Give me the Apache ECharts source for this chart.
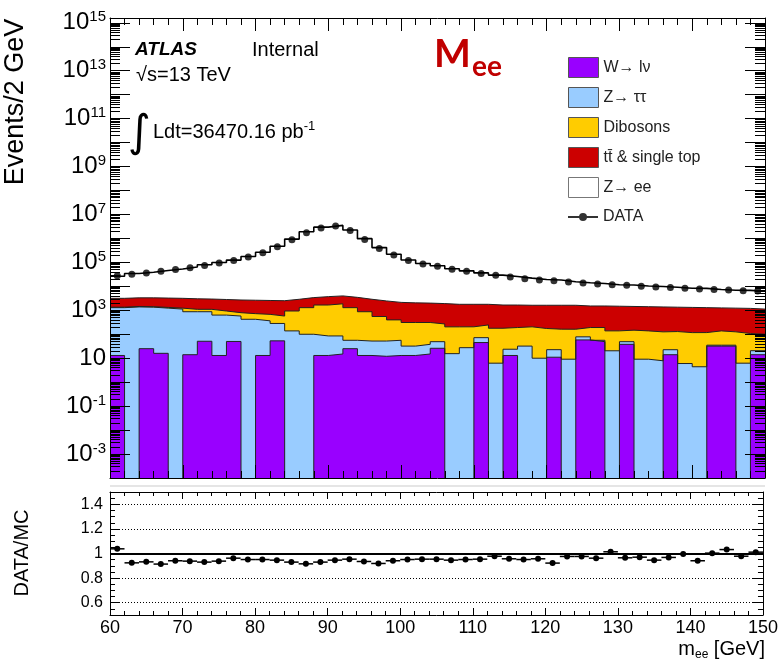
<!DOCTYPE html>
<html>
<head>
<meta charset="utf-8">
<script src="https://cdn.jsdelivr.net/npm/echarts@6/dist/echarts.min.js"></script>
<style>
  html, body { margin: 0; padding: 0; background: #fff; }
  #chart { width: 781px; height: 664px; }
</style>
</head>
<body>
<div id="chart"></div>
<script>
// Binning of the m_ee histogram: 45 bins of 2 GeV, 60-150 GeV
const binLow = 60;
const binWidth = 2;

// Observed events per bin
const dataCounts = [27500, 31600, 36300, 42200, 50100, 60300, 74100, 93300, 120000, 166000,
  251000, 447000, 871000, 1740000, 2750000, 3310000, 2140000, 912000, 380000, 204000,
  120000, 85100, 69200, 51300, 42200, 34700, 28800, 24500, 20900, 18600,
  17000, 15100, 13800, 12600, 11700, 11000, 10000, 9330, 8910, 8320,
  7760, 7410, 7080, 6610, 6310];

// Simulated components per bin (stacked in this order, bottom to top)
const wLepNu = [13, 0, 25, 16, 0, 14, 51, 13, 50, 0,
  13, 53, 0, 0, 13, 15, 25, 13, 12, 13,
  13, 15, 26, 0, 0, 45, 0, 13, 0, 0,
  11, 0, 58, 49, 0, 38, 0, 0, 14, 0,
  0, 32, 32, 0, 14];
const zTauTau = [1275, 1380, 1324, 1214, 1122, 857, 820, 618, 525, 422,
  350, 229, 138, 100, 72, 70, 31, 39, 40, 43,
  19, 23, 23, 15.5, 27.5, 27, 6.2, 10.7, 32, 10,
  11.7, 9.1, 20, 7, 20.4, 11, 9.1, 7.8, 8.6, 6.0,
  4.4, 3, 3, 6.2, 6.6];
const dibosons = [61, 65, 64, 88, 108, 225, 225, 302, 219, 302,
  313, 293, 795, 1188, 1575, 1777, 1232, 819, 498, 342,
  277, 271, 220, 188, 177, 173, 172, 167, 172, 164,
  140, 153, 113, 135, 118, 99, 129, 118, 107, 111,
  113, 103, 91, 101, 80];
const ttbarSingleTop = [1813, 1866, 1898, 1918, 1932, 1924, 1855, 1885, 1898, 1906,
  1894, 1937, 1951, 2100, 2055, 2119, 2179, 2013, 1905, 1740,
  1733, 1686, 1636, 1574, 1574, 1533, 1482, 1469, 1418, 1448,
  1460, 1460, 1323, 1323, 1341, 1297, 1275, 1254, 1220, 1201,
  1171, 1121, 1104, 1095, 1022];
const zee = [23300, 30900, 35600, 42900, 50100, 61300, 76700, 96700, 122000, 172000,
  261000, 470000, 934000, 1896000, 2953000, 3495000, 2240000, 973000, 411000, 215000,
  124000, 87200, 70600, 52500, 42600, 34600, 27800, 23900, 20400, 17800,
  16800, 13900, 12600, 11600, 10100, 9950, 8900, 8480, 7850, 7040,
  6960, 6130, 5630, 5560, 5120];

// DATA / MC per bin
const ratioDataMC = [1.038, 0.924, 0.932, 0.914, 0.941, 0.938, 0.930, 0.938, 0.962, 0.951,
  0.951, 0.946, 0.930, 0.916, 0.930, 0.946, 0.954, 0.935, 0.919, 0.941,
  0.951, 0.954, 0.954, 0.946, 0.951, 0.954, 0.978, 0.957, 0.951, 0.957,
  0.922, 0.976, 0.976, 0.962, 1.014, 0.965, 0.970, 0.946, 0.968, 0.995,
  0.941, 1.003, 1.032, 0.978, 1.011];

// Tick labels
const xTickLabels = [60, 70, 80, 90, 100, 110, 120, 130, 140, 150];
const ratioTickLabels = [0.6, 0.8, 1, 1.2, 1.4];
const mainLabelExponents = [-3, -1, 1, 3, 5, 7, 9, 11, 13, 15];

// Legend / series names
const NAME_W = 'W\u2192 l\u03bd';
const NAME_ZTT = 'Z\u2192 \u03c4\u03c4';
const NAME_DIB = 'Dibosons';
const NAME_TOP = 't\u0074\u0304 & single top';
const NAME_ZEE = 'Z\u2192 ee';
const NAME_DATA = 'DATA';

const FONT = '"Liberation Sans", Arial, Helvetica, sans-serif';
const COLORS = { w: '#9900ff', ztt: '#99ccff', dib: '#ffcc00', top: '#cc0000', zee: '#ffffff' };

// The event axis is logarithmic: values are placed by their decade exponent
const EXP_MIN = -4, EXP_MAX = 15.2;
const EMPTY_EXP = -10; // empty bins fall below the frame and are clipped
const toExp = v => (v > 0 ? Math.log10(v) : EMPTY_EXP);

const nBins = dataCounts.length;
const edge = i => binLow + i * binWidth;
const center = i => binLow + (i + 0.5) * binWidth;

// cumulative stack tops
const components = [wLepNu, zTauTau, dibosons, ttbarSingleTop, zee];
const stackTops = [];
let running = new Array(nBins).fill(0);
components.forEach(arr => {
  running = running.map((v, i) => v + arr[i]);
  stackTops.push(running.map((v, i) => (arr === wLepNu && arr[i] === 0 ? 0 : v)));
});

function stepPoints(values) {
  const pts = values.map((v, i) => [edge(i), toExp(v)]);
  pts.push([edge(nBins), toExp(values[nBins - 1])]);
  return pts;
}

function layer(name, values, fill, stroke, width) {
  return {
    name, type: 'line', xAxisIndex: 0, yAxisIndex: 0,
    data: stepPoints(values), step: 'end',
    symbol: 'none', showSymbol: false, clip: true, silent: true,
    lineStyle: { color: stroke, width: width },
    itemStyle: { color: fill },
    areaStyle: { color: fill, opacity: 1, origin: 'start' },
    animation: false
  };
}

// log-spaced minor ticks (2..9 x 10^n)
const logMinorTicks = [];
for (let n = Math.floor(EXP_MIN); n < Math.ceil(EXP_MAX); n++) {
  for (let m = 2; m <= 9; m++) {
    const t = n + Math.log10(m);
    if (t > EXP_MIN && t < EXP_MAX) logMinorTicks.push(t);
  }
}

function expLabel(v) {
  const e = Math.round(v);
  if (Math.abs(v - e) > 1e-6 || mainLabelExponents.indexOf(e) < 0) return '';
  if (e === 1) return '{b|10}';
  return '{b|10}{s|' + e + '}';
}

const frame = { show: true, onZero: false, lineStyle: { color: '#000', width: 1 } };
const tickStyle = { color: '#000', width: 1 };

function xAxisFor(grid, position, withLabels, majorLen, minorLen) {
  return {
    gridIndex: grid, type: 'value', min: binLow, max: binLow + nBins * binWidth, interval: 10,
    position, axisLine: frame,
    axisTick: { inside: true, length: majorLen, lineStyle: tickStyle },
    minorTick: { show: true, splitNumber: 5, length: minorLen, lineStyle: tickStyle },
    axisLabel: withLabels ? {
      show: true, customValues: xTickLabels, fontSize: 18, color: '#000', fontFamily: FONT, margin: 4
    } : { show: false },
    splitLine: { show: false }, minorSplitLine: { show: false }, z: 10
  };
}

function mainY(position, major) {
  return major ? {
    gridIndex: 0, type: 'value', min: EXP_MIN, max: EXP_MAX, interval: 1, position,
    axisLine: frame,
    axisTick: { inside: true, length: 20, lineStyle: tickStyle },
    axisLabel: position === 'left' ? {
      formatter: expLabel, margin: 4,
      rich: {
        b: { fontSize: 24, fontFamily: FONT, color: '#000', lineHeight: 26 },
        s: { fontSize: 15, fontFamily: FONT, color: '#000', verticalAlign: 'top' }
      }
    } : { show: false },
    splitLine: { show: false }, z: 10
  } : {
    gridIndex: 0, type: 'value', min: EXP_MIN, max: EXP_MAX, interval: 1, position,
    axisLine: { show: false, onZero: false },
    axisTick: { inside: true, length: 10, customValues: logMinorTicks, lineStyle: tickStyle },
    axisLabel: { show: false }, splitLine: { show: false }, z: 10
  };
}

function ratioY(position, major) {
  return major ? {
    gridIndex: 1, type: 'value', min: 0.5, max: 1.5, interval: 0.1, position,
    axisLine: frame,
    axisTick: { inside: true, length: 10, customValues: ratioTickLabels, lineStyle: tickStyle },
    axisLabel: position === 'left' ? {
      customValues: ratioTickLabels,
      formatter: v => (Math.abs(v - 1) < 1e-9 ? '1' : v.toFixed(1)),
      fontSize: 16, color: '#000', fontFamily: FONT, margin: 7
    } : { show: false },
    splitLine: { show: false }, z: 10
  } : {
    gridIndex: 1, type: 'value', min: 0.5, max: 1.5, interval: 0.05, position,
    axisLine: { show: false, onZero: false },
    axisTick: { inside: true, length: 5, lineStyle: tickStyle },
    axisLabel: { show: false }, splitLine: { show: false }, z: 10
  };
}

const chart = echarts.init(document.getElementById('chart'), null, { renderer: 'canvas' });

const option = {
  backgroundColor: '#ffffff',
  animation: false,
  grid: [
    { left: 110, top: 18, width: 655, height: 460, show: false },
    { left: 110, top: 492, width: 655, height: 123, show: false }
  ],
  xAxis: [
    xAxisFor(0, 'bottom', false, 13, 7),
    xAxisFor(0, 'top', false, 13, 7),
    xAxisFor(1, 'bottom', true, 7, 4),
    xAxisFor(1, 'top', false, 7, 4)
  ],
  yAxis: [
    mainY('left', true), mainY('left', false),
    mainY('right', true), mainY('right', false),
    ratioY('left', true), ratioY('left', false),
    ratioY('right', true), ratioY('right', false)
  ],
  legend: [
    {
      orient: 'vertical', left: 563, top: 52, itemWidth: 30, itemHeight: 20, itemGap: 9,
      selectedMode: false,
      textStyle: { fontSize: 16, color: '#222', fontFamily: FONT },
      data: [
        { name: NAME_W, icon: 'rect', itemStyle: { color: COLORS.w, borderColor: '#555', borderWidth: 1 } },
        { name: NAME_ZTT, icon: 'rect', itemStyle: { color: COLORS.ztt, borderColor: '#555', borderWidth: 1 } },
        { name: NAME_DIB, icon: 'rect', itemStyle: { color: COLORS.dib, borderColor: '#555', borderWidth: 1 } },
        { name: NAME_TOP, icon: 'rect', itemStyle: { color: COLORS.top, borderColor: '#555', borderWidth: 1 } },
        { name: NAME_ZEE, icon: 'rect', itemStyle: { color: COLORS.zee, borderColor: '#777', borderWidth: 1 } }
      ]
    },
    {
      orient: 'vertical', left: 563, top: 204, itemWidth: 30, itemHeight: 8,
      selectedMode: false,
      textStyle: { fontSize: 16, color: '#222', fontFamily: FONT },
      data: [{
        name: NAME_DATA,
        icon: 'path://M0,3 L30,3 L30,5 L0,5 Z M11,4 A4,4 0 1,1 19,4 A4,4 0 1,1 11,4 Z',
        itemStyle: { color: '#000', borderWidth: 0 }
      }]
    }
  ],
  series: [
    layer(NAME_ZEE, stackTops[4], COLORS.zee, '#000', 1.6),
    layer(NAME_TOP, stackTops[3], COLORS.top, '#222', 1),
    layer(NAME_DIB, stackTops[2], COLORS.dib, '#222', 1),
    layer(NAME_ZTT, stackTops[1], COLORS.ztt, '#222', 1),
    layer(NAME_W, stackTops[0], COLORS.w, '#222', 1),
    {
      name: NAME_DATA, type: 'scatter', xAxisIndex: 0, yAxisIndex: 0,
      data: dataCounts.map((v, i) => [center(i), toExp(v)]),
      symbol: 'circle', symbolSize: 7, itemStyle: { color: '#000' }, z: 5, silent: true
    },
    {
      name: 'ratio', type: 'custom', xAxisIndex: 2, yAxisIndex: 4,
      data: ratioDataMC.map((v, i) => [center(i), v]),
      encode: { x: 0, y: 1 },
      silent: true, z: 5,
      renderItem: function (params, api) {
        const x = api.value(0), y = api.value(1);
        const a = api.coord([x - binWidth / 2, y]);
        const b = api.coord([x + binWidth / 2, y]);
        const c = api.coord([x, y]);
        return {
          type: 'group',
          children: [
            { type: 'line', shape: { x1: a[0], y1: a[1], x2: b[0], y2: b[1] }, style: { stroke: '#000', lineWidth: 1.5 } },
            { type: 'circle', shape: { cx: c[0], cy: c[1], r: 3 }, style: { fill: '#000' } }
          ]
        };
      },
      markLine: {
        silent: true, symbol: ['none', 'none'], animation: false,
        label: { show: false },
        lineStyle: { color: '#000', width: 1, type: [1, 2] },
        data: [
          { yAxis: 0.6 }, { yAxis: 0.8 }, { yAxis: 1.2 }, { yAxis: 1.4 },
          { yAxis: 1, lineStyle: { type: 'solid', width: 1.8, color: '#000' } }
        ]
      }
    }
  ],
  graphic: [
    {
      type: 'line', shape: { x1: 110, y1: 486, x2: 765, y2: 486 },
      style: { stroke: '#dddddd', lineWidth: 1.5 }, silent: true
    },
    {
      type: 'text', x: 16, y: 102, rotation: Math.PI / 2,
      style: { text: 'Events/2 GeV', font: '27px ' + FONT, fill: '#000', textAlign: 'center', textVerticalAlign: 'middle' }
    },
    {
      type: 'text', x: 22, y: 553, rotation: Math.PI / 2,
      style: { text: 'DATA/MC', font: '20px ' + FONT, fill: '#000', textAlign: 'center', textVerticalAlign: 'middle' }
    },
    {
      type: 'text', x: 765, y: 649,
      style: {
        text: '{m|m}{s|ee}{m| [GeV]}', textAlign: 'right', textVerticalAlign: 'middle',
        rich: {
          m: { fontSize: 20, fontFamily: FONT, color: '#000', lineHeight: 24 },
          s: { fontSize: 12, fontFamily: FONT, color: '#000', verticalAlign: 'bottom' }
        }
      }
    },
    {
      type: 'text', x: 135, y: 50,
      style: { text: 'ATLAS', font: 'italic bold 19px ' + FONT, fill: '#000', textVerticalAlign: 'middle' }
    },
    {
      type: 'text', x: 252, y: 50,
      style: { text: 'Internal', font: '20px ' + FONT, fill: '#000', textVerticalAlign: 'middle' }
    },
    {
      type: 'text', x: 136, y: 75,
      style: { text: '\u221as=13 TeV', font: '20px ' + FONT, fill: '#000', textVerticalAlign: 'middle' }
    },
    {
      type: 'text', x: 128, y: 135,
      style: { text: '\u222b', font: '44px "DejaVu Sans", sans-serif', fill: '#000', textVerticalAlign: 'middle' }
    },
    {
      type: 'text', x: 153, y: 132,
      style: {
        text: '{n|Ldt=36470.16 pb}{s|-1}', textVerticalAlign: 'middle',
        rich: {
          n: { fontSize: 20, fontFamily: FONT, color: '#000', lineHeight: 24 },
          s: { fontSize: 13, fontFamily: FONT, color: '#000', verticalAlign: 'top' }
        }
      }
    },
    {
      type: 'text', x: 434, y: 54,
      style: { text: 'M', font: 'bold 39px Lato, "Open Sans", sans-serif', fill: '#c00000', textVerticalAlign: 'middle' }
    },
    {
      type: 'text', x: 472, y: 67,
      style: { text: 'ee', font: 'bold 28px Lato, "Open Sans", sans-serif', fill: '#c00000', textVerticalAlign: 'middle' }
    }
  ]
};

chart.setOption(option);
</script>
</body>
</html>
